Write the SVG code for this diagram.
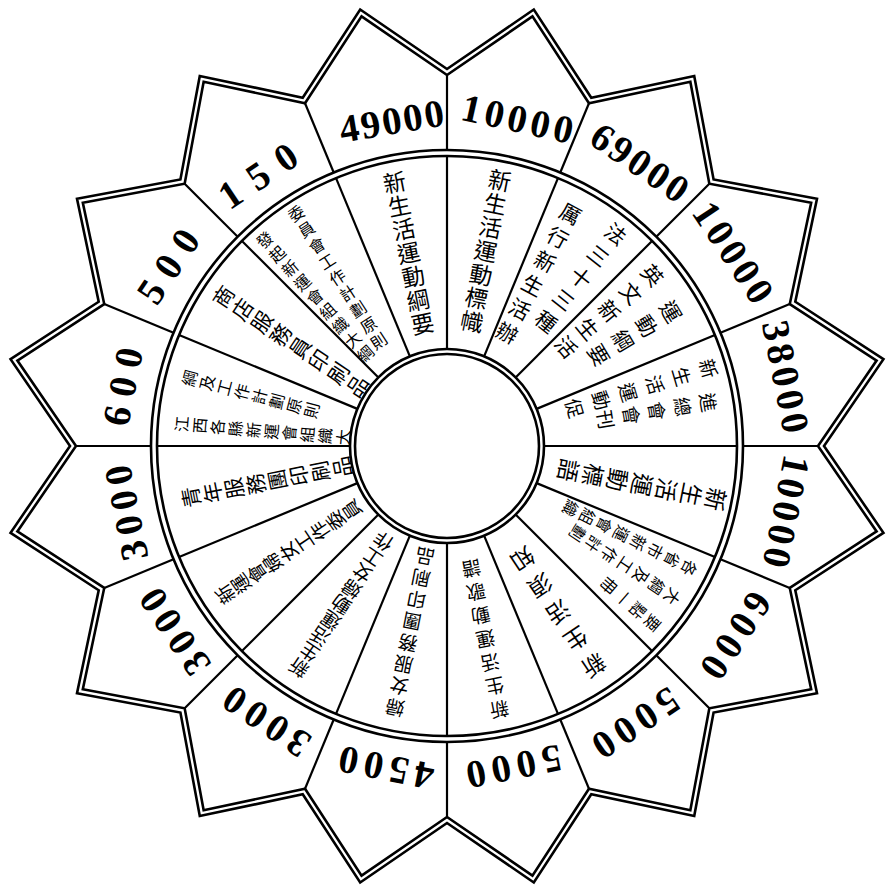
<svg xmlns="http://www.w3.org/2000/svg" width="893" height="885" viewBox="0 0 893 885">
<style>
.star{fill:none;stroke:#000;stroke-width:2.6;stroke-linejoin:miter}
.ring{fill:none;stroke:#000;stroke-width:2.6}
.dv{stroke:#000;stroke-width:2.2}
.num{font-family:"Liberation Serif",serif;font-weight:bold;font-size:39px;text-anchor:middle;dominant-baseline:central;fill:#000}
.zh{font-family:"Noto Sans CJK TC","Noto Sans CJK SC",sans-serif;font-size:23px;text-anchor:middle;dominant-baseline:central;fill:#000}
.zm{font-size:21px}
.zs{font-size:19px}
.zt{font-size:16px}
</style>
<rect width="893" height="885" fill="#fff"/>
<g id="frame" transform="translate(447,446)">
<path class="star" d="M0,-377 L86.82,-436.45 L144.27,-348.3 L247.23,-370 L266.58,-266.58 L370,-247.23 L348.3,-144.27 L436.45,-86.82 L377,0 L436.45,86.82 L348.3,144.27 L370,247.23 L266.58,266.58 L247.23,370 L144.27,348.3 L86.82,436.45 L0,377 L-86.82,436.45 L-144.27,348.3 L-247.23,370 L-266.58,266.58 L-370,247.23 L-348.3,144.27 L-436.45,86.82 L-377,0 L-436.45,-86.82 L-348.3,-144.27 L-370,-247.23 L-266.58,-266.58 L-247.23,-370 L-144.27,-348.3 L-86.82,-436.45 Z"/>
<path class="star" d="M0,-371 L85.45,-429.59 L141.97,-342.76 L243.34,-364.18 L262.34,-262.34 L364.18,-243.34 L342.76,-141.97 L429.59,-85.45 L371,0 L429.59,85.45 L342.76,141.97 L364.18,243.34 L262.34,262.34 L243.34,364.18 L141.97,342.76 L85.45,429.59 L0,371 L-85.45,429.59 L-141.97,342.76 L-243.34,364.18 L-262.34,262.34 L-364.18,243.34 L-342.76,141.97 L-429.59,85.45 L-371,0 L-429.59,-85.45 L-342.76,-141.97 L-364.18,-243.34 L-262.34,-262.34 L-243.34,-364.18 L-141.97,-342.76 L-85.45,-429.59 Z"/>
<circle class="ring" r="296"/>
<circle class="ring" r="290"/>
<circle class="ring" r="97"/>
<circle class="ring" r="92"/>
</g>
<g id="connectors" transform="translate(447,446)">
<line class="dv" x1="0" y1="-97" x2="0" y2="-290" transform="rotate(0)"/>
<line class="dv" x1="0" y1="-97" x2="0" y2="-290" transform="rotate(22.5)"/>
<line class="dv" x1="0" y1="-97" x2="0" y2="-290" transform="rotate(45)"/>
<line class="dv" x1="0" y1="-97" x2="0" y2="-290" transform="rotate(67.5)"/>
<line class="dv" x1="0" y1="-97" x2="0" y2="-290" transform="rotate(90)"/>
<line class="dv" x1="0" y1="-97" x2="0" y2="-290" transform="rotate(112.5)"/>
<line class="dv" x1="0" y1="-97" x2="0" y2="-290" transform="rotate(135)"/>
<line class="dv" x1="0" y1="-97" x2="0" y2="-290" transform="rotate(157.5)"/>
<line class="dv" x1="0" y1="-97" x2="0" y2="-290" transform="rotate(180)"/>
<line class="dv" x1="0" y1="-97" x2="0" y2="-290" transform="rotate(202.5)"/>
<line class="dv" x1="0" y1="-97" x2="0" y2="-290" transform="rotate(225)"/>
<line class="dv" x1="0" y1="-97" x2="0" y2="-290" transform="rotate(247.5)"/>
<line class="dv" x1="0" y1="-97" x2="0" y2="-290" transform="rotate(270)"/>
<line class="dv" x1="0" y1="-97" x2="0" y2="-290" transform="rotate(292.5)"/>
<line class="dv" x1="0" y1="-97" x2="0" y2="-290" transform="rotate(315)"/>
<line class="dv" x1="0" y1="-97" x2="0" y2="-290" transform="rotate(337.5)"/>
<line class="dv" x1="0" y1="-296" x2="0" y2="-371" transform="rotate(0)"/>
<line class="dv" x1="0" y1="-296" x2="0" y2="-371" transform="rotate(22.5)"/>
<line class="dv" x1="0" y1="-296" x2="0" y2="-371" transform="rotate(45)"/>
<line class="dv" x1="0" y1="-296" x2="0" y2="-371" transform="rotate(67.5)"/>
<line class="dv" x1="0" y1="-296" x2="0" y2="-371" transform="rotate(90)"/>
<line class="dv" x1="0" y1="-296" x2="0" y2="-371" transform="rotate(112.5)"/>
<line class="dv" x1="0" y1="-296" x2="0" y2="-371" transform="rotate(135)"/>
<line class="dv" x1="0" y1="-296" x2="0" y2="-371" transform="rotate(157.5)"/>
<line class="dv" x1="0" y1="-296" x2="0" y2="-371" transform="rotate(180)"/>
<line class="dv" x1="0" y1="-296" x2="0" y2="-371" transform="rotate(202.5)"/>
<line class="dv" x1="0" y1="-296" x2="0" y2="-371" transform="rotate(225)"/>
<line class="dv" x1="0" y1="-296" x2="0" y2="-371" transform="rotate(247.5)"/>
<line class="dv" x1="0" y1="-296" x2="0" y2="-371" transform="rotate(270)"/>
<line class="dv" x1="0" y1="-296" x2="0" y2="-371" transform="rotate(292.5)"/>
<line class="dv" x1="0" y1="-296" x2="0" y2="-371" transform="rotate(315)"/>
<line class="dv" x1="0" y1="-296" x2="0" y2="-371" transform="rotate(337.5)"/>
</g>
<g id="numbers" transform="translate(447,446)">
<text class="num" transform="rotate(12.5)" x="0" y="-335" letter-spacing="4">10000</text>
<text class="num" transform="rotate(34.5)" x="0" y="-343" letter-spacing="3">69000</text>
<text class="num" transform="rotate(56.25)" x="0" y="-346" letter-spacing="4">10000</text>
<text class="num" transform="rotate(78.75)" x="0" y="-346" letter-spacing="4">38000</text>
<text class="num" transform="rotate(101.25)" x="0" y="-346" letter-spacing="4">10000</text>
<text class="num" transform="rotate(123.75)" x="0" y="-346" letter-spacing="6">6000</text>
<text class="num" transform="rotate(146.25)" x="0" y="-336" letter-spacing="6">5000</text>
<text class="num" transform="rotate(168.75)" x="0" y="-328" letter-spacing="6">5000</text>
<text class="num" transform="rotate(191.25)" x="0" y="-328" letter-spacing="6">4500</text>
<text class="num" transform="rotate(213.75)" x="0" y="-330" letter-spacing="6">3000</text>
<text class="num" transform="rotate(236.25)" x="0" y="-330" letter-spacing="6">3000</text>
<text class="num" transform="rotate(258.75)" x="0" y="-328" letter-spacing="6">3000</text>
<text class="num" transform="rotate(281.25)" x="0" y="-330" letter-spacing="10">600</text>
<text class="num" transform="rotate(303.75)" x="0" y="-332" letter-spacing="11">500</text>
<text class="num" transform="rotate(326.25)" x="0" y="-330" letter-spacing="14">150</text>
<text class="num" transform="rotate(350.5)" x="0" y="-330" letter-spacing="2">49000</text>
</g>
<g id="s0" transform="translate(447,446)"><text class="zh" transform="rotate(11.25)" x="0 0 0 0 0 0 0" y="-272 -248 -224 -200 -176 -152 -128">新生活運動標幟</text></g>
<g id="s1" transform="translate(447,446)"><text class="zh zm" transform="rotate(28)" x="0 0 0 0 0 0" y="-264 -237 -210 -183 -156 -129">厲行新生活辦</text><text class="zh zm" transform="rotate(38.5)" x="0 0 0 0 0" y="-272 -244 -216 -188 -160">法三十三種</text></g>
<g id="s2" transform="translate(447,446)"><text class="zh zm" transform="rotate(50.25)" x="0 0 0 0 0" y="-268 -240 -212 -184 -156">英文新生活</text><text class="zh zm" transform="rotate(59)" x="0 0 0 0" y="-262 -234 -206 -178">運動綱要</text></g>
<g id="s3" transform="translate(447,446)"><text class="zh zs" transform="rotate(73.5)" x="0 0 0 0 0 0" y="-274 -246 -218 -190 -162 -134">新生活運動促</text><text class="zh zs" transform="rotate(80.5)" x="0 0 0 0 0" y="-266 -240 -214 -188 -162">進總會會刊</text></g>
<g id="s4" transform="translate(447,446)"><text class="zh" transform="rotate(101.25)" x="0 0 0 0 0 0 0" y="-275 -250 -225 -200 -175 -150 -125">新生活運動標語</text></g>
<g id="s5" transform="translate(447,446)"><text class="zh zt" transform="rotate(116.75)" x="0 0 0 0 0 0 0 0 0" y="-272 -253 -234 -215 -196 -177 -158 -139 -120">各省市新運會組織</text><text class="zh zt" transform="rotate(123.75)" x="0 0 0 0 0 0 0 0" y="-272 -253 -234 -215 -196 -177 -158 -139">大綱及工作計劃</text><text class="zh zt" transform="rotate(130.75)" x="0 0 0 0 0 0" y="-272 -253 -234 -215 -196 -177">要點一冊</text></g>
<g id="s6" transform="translate(447,446)"><text class="zh" transform="rotate(146.25)" x="0 0 0 0 0" y="-265 -233 -201 -169 -137">新生活須知</text></g>
<g id="s7" transform="translate(447,446)"><text class="zh zs" transform="rotate(168.75)" x="0 0 0 0 0 0 0" y="-270 -246 -222 -198 -174 -150 -126">新生活運動歌譜</text></g>
<g id="s8" transform="translate(447,446)"><text class="zh zs" transform="rotate(191.25)" x="0 0 0 0 0 0 0 0" y="-268 -246 -224 -202 -180 -158 -136 -114">婦女服務團印刷品</text></g>
<g id="s9" transform="translate(447,446)"><text class="zh zs" transform="rotate(213.75)" x="0 0 0 0 0 0 0 0 0" y="-268 -249 -230 -211 -192 -173 -154 -135 -116">新生活運動婦女工作</text></g>
<g id="s10" transform="translate(447,446)"><text class="zh zs" transform="rotate(236.25)" x="0 0 0 0 0 0 0 0 0" y="-268 -249 -230 -211 -192 -173 -154 -135 -116">新運會婦女工作委員</text></g>
<g id="s11" transform="translate(447,446)"><text class="zh zm" transform="rotate(258.75)" x="0 0 0 0 0 0 0 0" y="-262 -240 -218 -196 -174 -152 -130 -108">青年服務團印刷品</text></g>
<g id="s12" transform="translate(447,446)"><text class="zh zt" transform="rotate(274.75)" x="0 0 0 0 0 0 0 0 0 0" y="-267 -249 -231 -213 -195 -177 -159 -141 -123 -105">江西各縣新運會組織大</text><text class="zh zt" transform="rotate(284.75)" x="0 0 0 0 0 0 0 0" y="-267 -249 -231 -213 -195 -177 -159 -141">綱及工作計劃原則</text></g>
<g id="s13" transform="translate(447,446)"><text class="zh zm" transform="rotate(303.75)" x="0 0 0 0 0 0 0 0" y="-270 -247 -224 -201 -178 -155 -132 -109">商店服務員印刷品</text></g>
<g id="s14" transform="translate(447,446)"><text class="zh zt" transform="rotate(318.5)" x="0 0 0 0 0 0 0 0 0" y="-276 -257 -238 -219 -200 -181 -162 -143 -124">發起新運會組織大綱</text><text class="zh zt" transform="rotate(327)" x="0 0 0 0 0 0 0 0 0" y="-278 -259 -240 -221 -202 -183 -164 -145 -126">委員會工作計劃原則</text></g>
<g id="s15" transform="translate(447,446)"><text class="zh" transform="rotate(348.75)" x="0 0 0 0 0 0 0" y="-270 -246 -222 -198 -174 -150 -126">新生活運動綱要</text></g>
</svg>
